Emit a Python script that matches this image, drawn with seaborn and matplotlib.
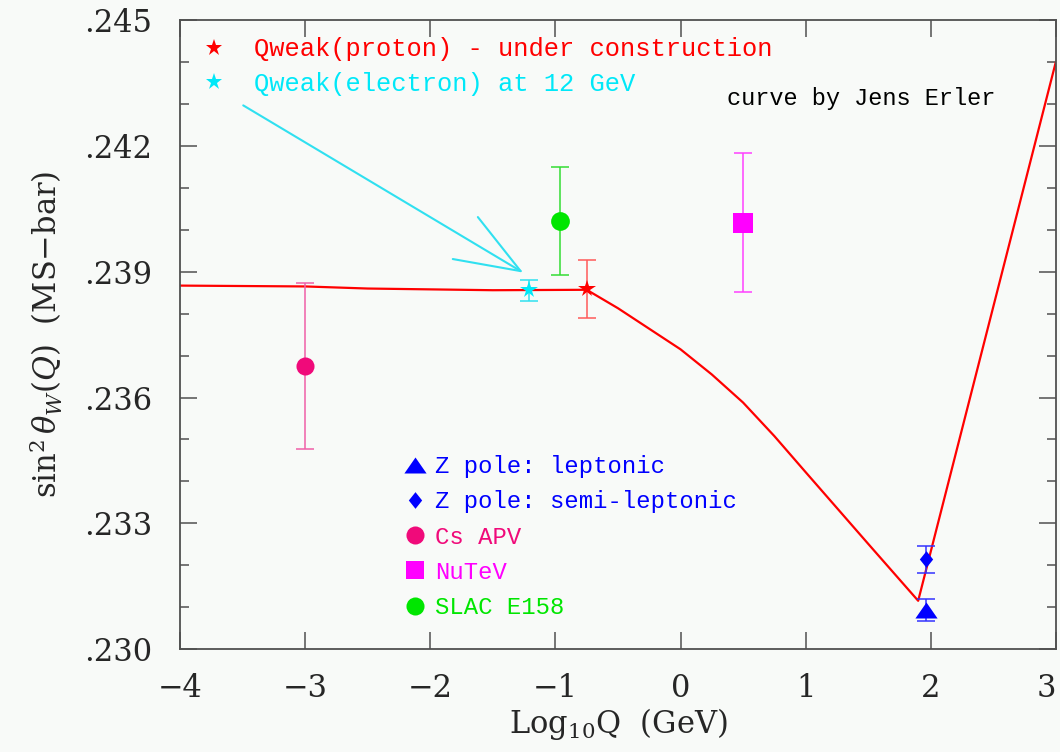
import matplotlib
matplotlib.use("Agg")
import matplotlib.pyplot as plt
import seaborn as sns
import pandas as pd
from matplotlib.lines import Line2D
from matplotlib.ticker import FixedLocator, MultipleLocator

# ---------------- data ----------------
curve_x = [-4.0, -3.0, -2.5, -1.5, -0.75, -0.5, 0.0, 0.25, 0.5, 0.75, 1.0, 1.5, 1.9, 3.0]
curve_y = [0.23867, 0.23865, 0.23860, 0.23856, 0.23857, 0.23813, 0.23715, 0.23655,
           0.23588, 0.23508, 0.23422, 0.23251, 0.23115, 0.24400]

cs_x, cs_y, cs_err = [-3.0], [0.23675], [0.00199]
qe_x, qe_y, qe_err = [-1.21], [0.23856], [0.00025]
qp_x, qp_y, qp_err = [-0.75], [0.23858], [0.00069]
e158_x, e158_y, e158_err = [-0.96], [0.24022], [0.00129]
nutev_x, nutev_y, nutev_err = [0.5], [0.24017], [0.00166]
zl_x, zl_y, zl_err = [1.96], [0.23093], [0.00026]
zs_x, zs_y, zs_err = [1.96], [0.23214], [0.00032]

arrow_from = (-3.496, 0.24297)
arrow_to = (-1.258, 0.23898)

xticks = [-4, -3, -2, -1, 0, 1, 2, 3]
xticklabels = ["\u22124", "\u22123", "\u22122", "\u22121", "0", "1", "2", "3"]
yticks = [0.230, 0.233, 0.236, 0.239, 0.242, 0.245]
yticklabels = [".230", ".233", ".236", ".239", ".242", ".245"]

top_labels = ["Qweak(proton) - under construction", "Qweak(electron) at 12 GeV"]
bottom_labels = ["Z pole: leptonic", "Z pole: semi-leptonic", "Cs APV", "NuTeV", "SLAC E158"]

# ---------------- style ----------------
sns.set_theme(style="ticks")
BG = "#F8FAF8"
plt.rcParams.update({
    "font.family": ["DejaVu Serif"],
    "mathtext.fontset": "dejavuserif",
    "axes.facecolor": BG,
    "figure.facecolor": BG,
    "axes.edgecolor": "#505050",
    "axes.linewidth": 1.3,
})

RED, RED_E = "#FF0000", "#FF5A5A"
CYAN, CYAN_E = "#00E8F8", "#30E0F0"
PINK, PINK_E = "#F00A7A", "#F060A8"
MAG, MAG_E = "#FF00FF", "#FF40FF"
GREEN, GREEN_E = "#00E600", "#33DD33"
BLUE, BLUE_E = "#0000FF", "#3333FF"

tri = [(-1, -0.72), (1, -0.72), (0, 0.72), (-1, -0.72)]
dia = [(0, 1), (0.8, 0), (0, -1), (-0.8, 0), (0, 1)]

fig = plt.figure(figsize=(10.6, 7.52), dpi=100)
ax = fig.add_axes([0.170, 0.137, 0.826, 0.836])

df = pd.DataFrame({"x": curve_x, "y": curve_y})
sns.lineplot(data=df, x="x", y="y", ax=ax, color=RED, lw=1.6, sort=False,
             estimator=None, zorder=2)

def meas(x, y, e, ecol, mcol, marker, ms):
    ax.errorbar(x, y, yerr=e, fmt="none", ecolor=ecol, elinewidth=1.1,
                capsize=6.5, capthick=1.1, zorder=3)
    ax.plot(x, y, ls="none", marker=marker, ms=ms, color=mcol,
            markeredgewidth=0, zorder=4)

meas(cs_x, cs_y, cs_err, PINK_E, PINK, "o", 13)
meas(e158_x, e158_y, e158_err, GREEN_E, GREEN, "o", 13.5)
meas(nutev_x, nutev_y, nutev_err, MAG_E, MAG, "s", 14)
meas(qe_x, qe_y, qe_err, CYAN_E, CYAN, "*", 13)
meas(qp_x, qp_y, qp_err, RED_E, RED, "*", 13)
meas(zl_x, zl_y, zl_err, BLUE_E, BLUE, tri, 16)
meas(zs_x, zs_y, zs_err, BLUE_E, BLUE, dia, 12)

ax.annotate("", xy=arrow_to, xytext=arrow_from,
            arrowprops=dict(arrowstyle="->,head_length=4.64,head_width=1.76",
                            color=CYAN_E, lw=1.5, mutation_scale=10,
                            shrinkA=0, shrinkB=0))

ax.set_xlim(-4, 3)
ax.set_ylim(0.230, 0.245)
ax.xaxis.set_major_locator(FixedLocator(xticks))
ax.set_xticklabels(xticklabels)
ax.yaxis.set_major_locator(FixedLocator(yticks))
ax.yaxis.set_minor_locator(MultipleLocator(0.001))
ax.set_yticklabels(yticklabels)
ax.tick_params(which="major", direction="in", length=12, width=1.1,
               top=True, right=True, labelsize=22, color="#505050")
ax.tick_params(axis="x", which="major", pad=17)
ax.tick_params(axis="y", which="major", pad=20)
ax.tick_params(which="minor", direction="in", length=6.5, width=1.1,
               top=False, right=True, color="#505050")
ax.tick_params(axis="x", which="minor", bottom=False, top=False)
ax.get_xticklabels()[-1].set_horizontalalignment("right")

ax.set_xlabel(r"Log$_{10}$Q  (GeV)", fontsize=22, labelpad=2)
ax.set_ylabel(r"$\sin^2\theta_W(Q)$  (MS$-$bar)", fontsize=22, labelpad=14)

# legends
mono = {"family": "Liberation Mono", "size": 18.4}
top_handles = [Line2D([], [], ls="none", marker="*", ms=12.5, color=RED, mew=0),
               Line2D([], [], ls="none", marker="*", ms=12.5, color=CYAN, mew=0)]
leg1 = ax.legend(top_handles, top_labels, loc="center left",
                 bbox_to_anchor=(0.024, 0.926), frameon=False, prop=mono,
                 labelcolor=[RED, CYAN], handlelength=1.0, handletextpad=1.05,
                 labelspacing=0.42, borderpad=0, borderaxespad=0)
ax.add_artist(leg1)

mono2 = {"family": "Liberation Mono", "size": 17.2}
bot_handles = [Line2D([], [], ls="none", marker=tri, ms=16, color=BLUE, mew=0),
               Line2D([], [], ls="none", marker=dia, ms=12, color=BLUE, mew=0),
               Line2D([], [], ls="none", marker="o", ms=13, color=PINK, mew=0),
               Line2D([], [], ls="none", marker="s", ms=12.5, color=MAG, mew=0),
               Line2D([], [], ls="none", marker="o", ms=13, color=GREEN, mew=0)]
ax.legend(bot_handles, bottom_labels, loc="center left",
          bbox_to_anchor=(0.2546, 0.178), frameon=False, prop=mono2,
          labelcolor=[BLUE, BLUE, PINK, MAG, GREEN], handlelength=1.0,
          handletextpad=0.33, labelspacing=0.51, borderpad=0, borderaxespad=0)

ax.text(0.624, 0.876, "curve by Jens Erler", transform=ax.transAxes,
        ha="left", va="center", color="black",
        fontdict={"family": "Liberation Mono", "size": 17})

fig.savefig("out.png", dpi=100, facecolor=BG)
